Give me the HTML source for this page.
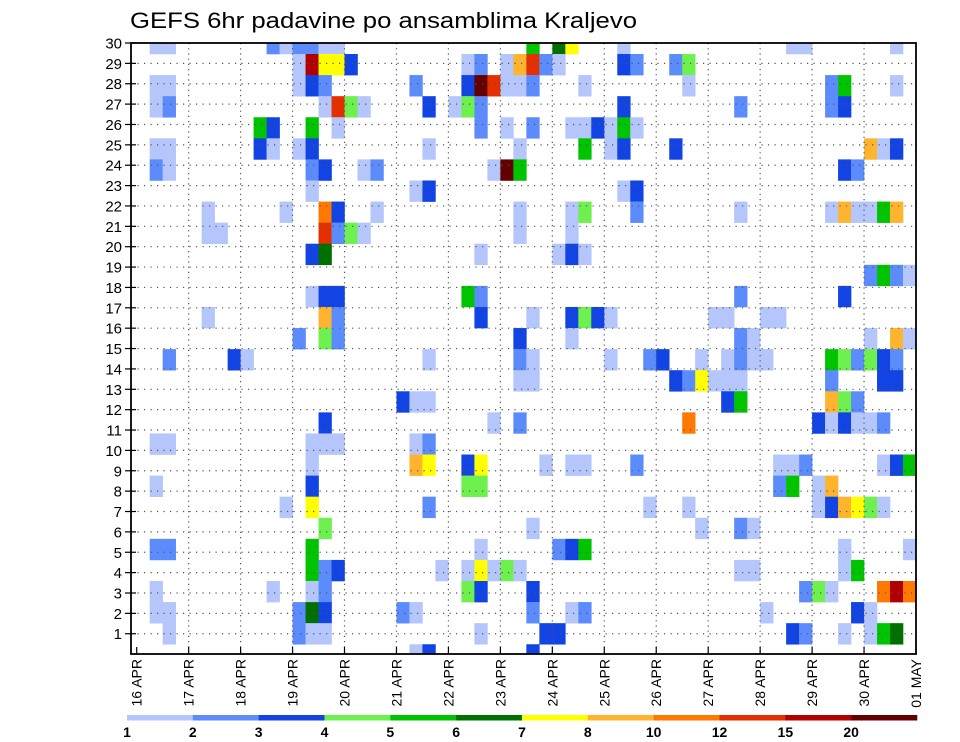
<!DOCTYPE html>
<html><head><meta charset="utf-8"><style>
html,body{margin:0;padding:0;background:#fff;}
svg{display:block;font-family:"Liberation Sans",sans-serif;}
</style></head><body>
<svg id="chart" width="960" height="742" viewBox="0 0 960 742" xmlns="http://www.w3.org/2000/svg">
<text x="130" y="28" font-size="22" textLength="507" lengthAdjust="spacingAndGlyphs">GEFS 6hr padavine po ansamblima Kraljevo</text>
<defs><clipPath id="plotclip"><rect x="131" y="43" width="785" height="611"/></clipPath></defs>
<g id="cells" clip-path="url(#plotclip)"></g>
<g id="grid"></g>
<rect x="131" y="43" width="785" height="611" fill="none" stroke="#000" stroke-width="1.8"/>
<g id="axes"></g>
<g id="legend"></g>
</svg>
<script>
// Level labels and colors of the colour bar
const levelLabels = ["1","2","3","4","5","6","7","8","10","12","15","20"];
const levelColors = ["#b4c6fb","#5c8cfc","#1244e4","#6ef04e","#00c400","#007000","#ffff00","#ffb430","#ff7800","#e43000","#b00000","#640000"];
// y-axis member labels
const rowLabels = [30,29,28,27,26,25,24,23,22,21,20,19,18,17,16,15,14,13,12,11,10,9,8,7,6,5,4,3,2,1];
// x-axis dates
const dayLabels = ["16 APR","17 APR","18 APR","19 APR","20 APR","21 APR","22 APR","23 APR","24 APR","25 APR","26 APR","27 APR","28 APR","29 APR","30 APR","01 MAY"];
// heatmap rows (top to bottom): "column:levelCode" (code 1..9,a,b,c -> level index 0..11)
const gridRows = [
"1:1 2:1 10:2 11:1 12:2 13:2 14:1 15:1 30:5 32:6 33:7 37:1 50:1 51:1 58:1",
"12:1 13:b 14:7 15:7 16:3 25:1 26:2 28:1 29:8 30:a 31:2 32:1 37:3 38:2 41:2 42:4",
"1:1 2:1 12:1 13:3 14:2 21:2 25:3 26:c 27:a 28:1 29:1 30:2 34:1 42:1 53:2 54:5 58:1",
"1:1 2:2 14:1 15:a 16:4 17:1 22:3 24:1 25:4 26:2 37:3 46:2 53:2 54:3",
"9:5 10:3 13:5 15:1 26:2 28:1 30:2 33:1 34:1 35:3 36:1 37:5 38:1",
"1:1 2:1 9:3 10:1 12:1 13:3 22:1 29:1 34:5 36:1 37:3 41:3 56:8 57:1 58:3",
"1:2 2:1 13:2 14:3 17:1 18:2 27:1 28:c 29:5 54:3 55:2",
"13:1 21:1 22:3 37:1 38:3",
"5:1 11:1 14:9 15:3 18:1 29:1 33:1 34:4 38:2 46:1 53:1 54:8 55:1 56:1 57:5 58:8",
"5:1 6:1 14:a 15:2 16:4 17:1 29:1 33:1",
"13:3 14:6 26:1 32:1 33:3 34:1",
"56:2 57:5 58:2 59:1",
"13:1 14:3 15:3 25:5 26:2 46:2 54:3",
"5:1 14:8 15:2 26:3 30:1 33:3 34:4 35:3 36:1 44:1 45:1 48:1 49:1",
"12:2 14:4 15:2 29:3 33:1 46:2 47:1 56:1 58:8 59:1",
"2:2 7:3 8:1 22:1 29:2 30:1 36:1 39:2 40:3 43:1 45:1 46:2 47:1 48:1 53:5 54:4 55:2 56:4 57:3 58:2",
"29:1 30:1 41:3 42:2 43:7 44:1 45:1 46:1 53:2 57:3 58:3",
"20:3 21:1 22:1 45:3 46:5 53:8 54:4 55:2",
"14:3 27:1 29:2 42:9 52:3 53:1 54:3 55:1 56:1 57:2",
"1:1 2:1 13:1 14:1 15:1 21:1 22:2",
"13:1 21:8 22:7 25:3 26:7 31:1 33:1 34:1 38:2 49:1 50:1 51:2 57:1 58:3 59:5",
"1:1 13:3 25:4 26:4 49:2 50:5 52:1 53:8",
"11:1 13:7 22:2 39:1 42:1 52:1 53:3 54:8 55:7 56:4 57:1",
"14:4 30:1 43:1 46:2 47:1",
"1:2 2:2 13:5 26:1 32:2 33:3 34:5 54:1 59:1",
"13:5 14:2 15:3 23:1 25:1 26:7 27:1 28:4 29:1 46:1 47:1 54:1 55:5",
"1:1 10:1 13:1 14:2 25:4 26:3 30:3 51:2 52:4 53:1 57:9 58:b 59:9",
"1:1 2:1 12:2 13:6 14:3 20:2 21:1 30:2 33:1 34:2 48:1 55:3 56:1",
"2:1 12:2 13:1 14:1 26:1 31:3 32:3 50:3 51:2 54:1 56:1 57:5 58:6",
"21:1 22:3 30:3"
];
const NS="http://www.w3.org/2000/svg";
function mk(tag,attrs,parent){const e=document.createElementNS(NS,tag);for(const k in attrs)e.setAttribute(k,attrs[k]);parent.appendChild(e);return e;}
const X0=136.7, DX=(916-136.7)/60, DAYW=DX*4;
const xCol=c=>X0+c*DX;
const xDay=d=>X0+d*DAYW;
const CH=21.08;
const yCellTop=j=>54+CH*(j-1);
const yRow=r=>43+20.37*(30-r);
const codeToLevel=ch=>parseInt(ch,16)-1;

const gCells=document.getElementById('cells');
gridRows.forEach((row,j)=>{
  row.split(' ').filter(s=>s).forEach(tok=>{
    const [c,code]=tok.split(':');
    const lv=codeToLevel(code);
    const r=mk('rect',{x:xCol(+c).toFixed(2),y:yCellTop(j).toFixed(2),width:(DX+0.3).toFixed(2),height:(CH+0.3).toFixed(2),fill:levelColors[lv]},gCells);
    
    
  });
});

const gGrid=document.getElementById('grid');
rowLabels.forEach(r=>{
  const y=yRow(r);
  if(r===30)return;
  const l=mk('line',{x1:131,x2:916,y1:y,y2:y,stroke:'#555','stroke-width':1.2,'stroke-dasharray':'1.2,5.3'},gGrid);
  
  
});
dayLabels.forEach((d,i)=>{
  if(i===0||i===dayLabels.length-1)return;
  const x=xDay(i);
  const l=mk('line',{x1:x,x2:x,y1:43,y2:654,stroke:'#555','stroke-width':1.2,'stroke-dasharray':'1.2,4'},gGrid);
  
  
});

const gAxes=document.getElementById('axes');
rowLabels.forEach(r=>{
  const y=yRow(r);
  const t=mk('line',{x1:125,x2:136,y1:y,y2:y,stroke:'#000','stroke-width':1.2},gAxes);
  
  
  const tx=mk('text',{x:122,y:y+5.5,'font-size':15,'text-anchor':'end'},gAxes);
  tx.textContent=r;
  
  
});
dayLabels.forEach((d,i)=>{
  const x=xDay(i);
  const t=mk('line',{x1:x,x2:x,y1:647,y2:654,stroke:'#000','stroke-width':1.2},gAxes);
  
  
  const tx=mk('text',{transform:`translate(${(x+5).toFixed(1)},659) rotate(-90)`,'font-size':14,'text-anchor':'end'},gAxes);
  tx.textContent=d;
  
  
});

const gLeg=document.getElementById('legend');
const LX0=127, LW=(917-127)/levelColors.length;
levelColors.forEach((c,i)=>{
  const r=mk('rect',{x:LX0+i*LW,y:715,width:LW+0.3,height:5.5,fill:c},gLeg);
  
  
});
levelLabels.forEach((s,i)=>{
  const t=mk('text',{x:LX0+i*LW,y:737,'font-size':14,'font-weight':'bold','text-anchor':'middle'},gLeg);
  t.textContent=s;
  
  
});
</script>
</body></html>
